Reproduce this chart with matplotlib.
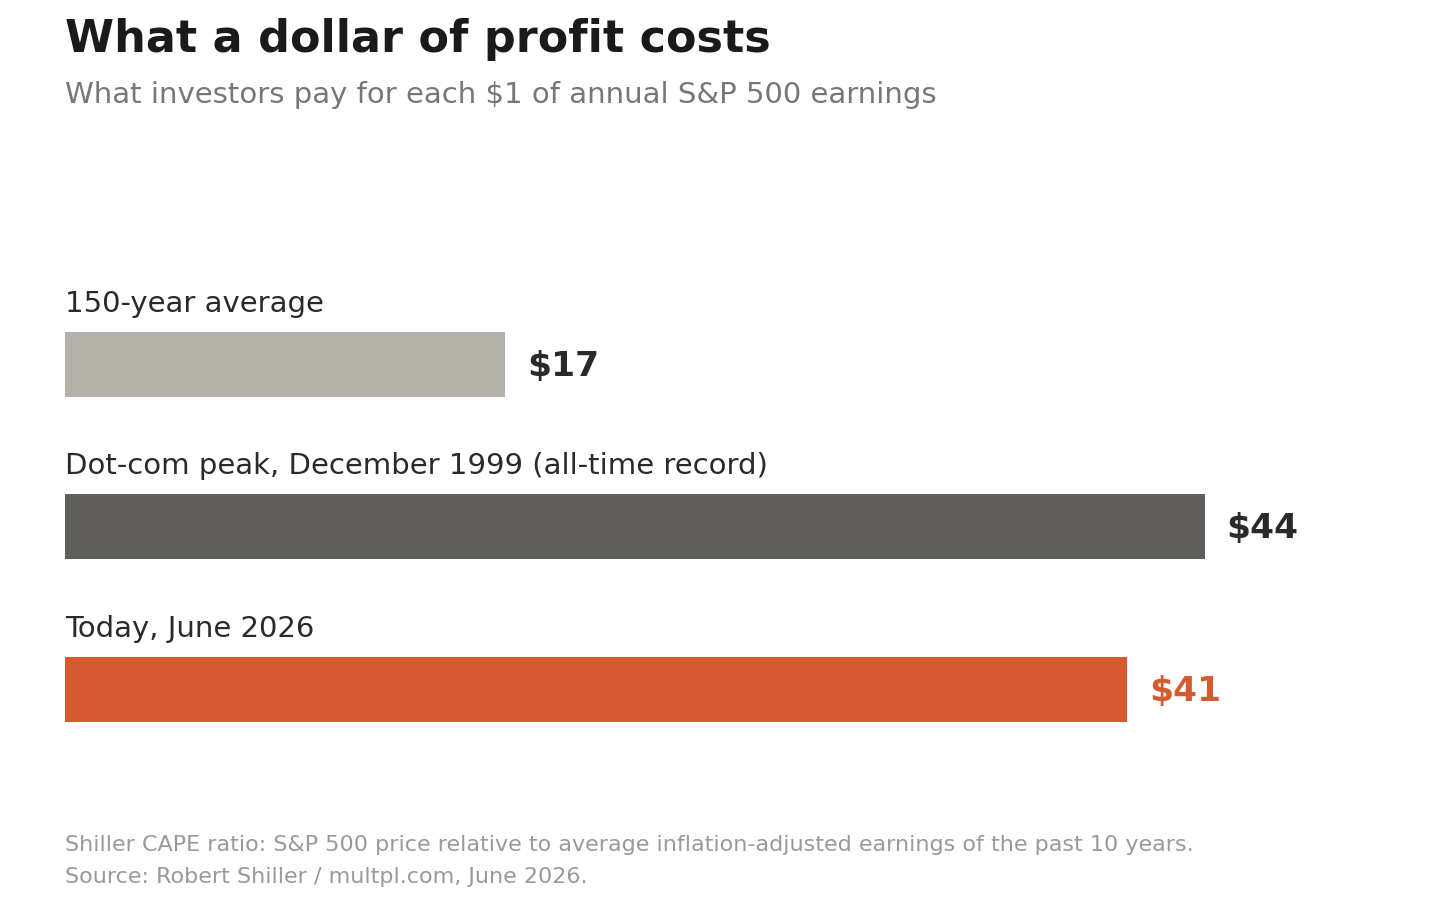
import matplotlib
matplotlib.use('Agg')
import matplotlib.pyplot as plt

W, H = 1440, 919

labels = ["150-year average",
          "Dot-com peak, December 1999 (all-time record)",
          "Today, June 2026"]
values = [17, 44, 41]
value_text = ["$17", "$44", "$41"]
colors = ["#b4b1a8", "#5f5e5a", "#d65a30"]
value_colors = ["#2a2a2a", "#2a2a2a", "#d65a30"]

fig = plt.figure(figsize=(W / 100, H / 100), dpi=100)
fig.patch.set_facecolor("white")

def fx(px):
    return px / W

def fy(px):
    return 1 - px / H

# bars region: 332 px (top of first bar) to 722 px (bottom of last)
ax = fig.add_axes([fx(65), fy(722), fx(1375), (722 - 332) / H])
ypos = list(range(len(values)))
ax.barh(ypos, values, height=0.4, color=colors, left=0)
ax.set_xlim(0, 1375 / 25.9)
ax.set_ylim(2.2, -0.2)
ax.axis('off')

for y, lab, v, vt, vc in zip(ypos, labels, values, value_text, value_colors):
    ax.text(0, y - 0.2 - 0.125, lab, ha='left', va='baseline',
            fontsize=21, color="#2a2a2a", clip_on=False)
    ax.text(v + 0.85, y + 0.01, vt, ha='left', va='center', fontsize=24.8,
            fontweight='bold', color=vc, clip_on=False)

fig.text(fx(65), fy(52), "What a dollar of profit costs", ha='left',
         va='baseline', fontsize=32, fontweight='bold', color="#1a1a1a")
fig.text(fx(65), fy(103), "What investors pay for each $1 of annual S&P 500 earnings",
         ha='left', va='baseline', fontsize=21, color="#777777")

fig.text(fx(65), fy(851),
         "Shiller CAPE ratio: S&P 500 price relative to average inflation-adjusted earnings of the past 10 years.",
         ha='left', va='baseline', fontsize=16, color="#999999")
fig.text(fx(65), fy(883), "Source: Robert Shiller / multpl.com, June 2026.",
         ha='left', va='baseline', fontsize=16, color="#999999")

fig.savefig("out.png", dpi=100, facecolor="white")
